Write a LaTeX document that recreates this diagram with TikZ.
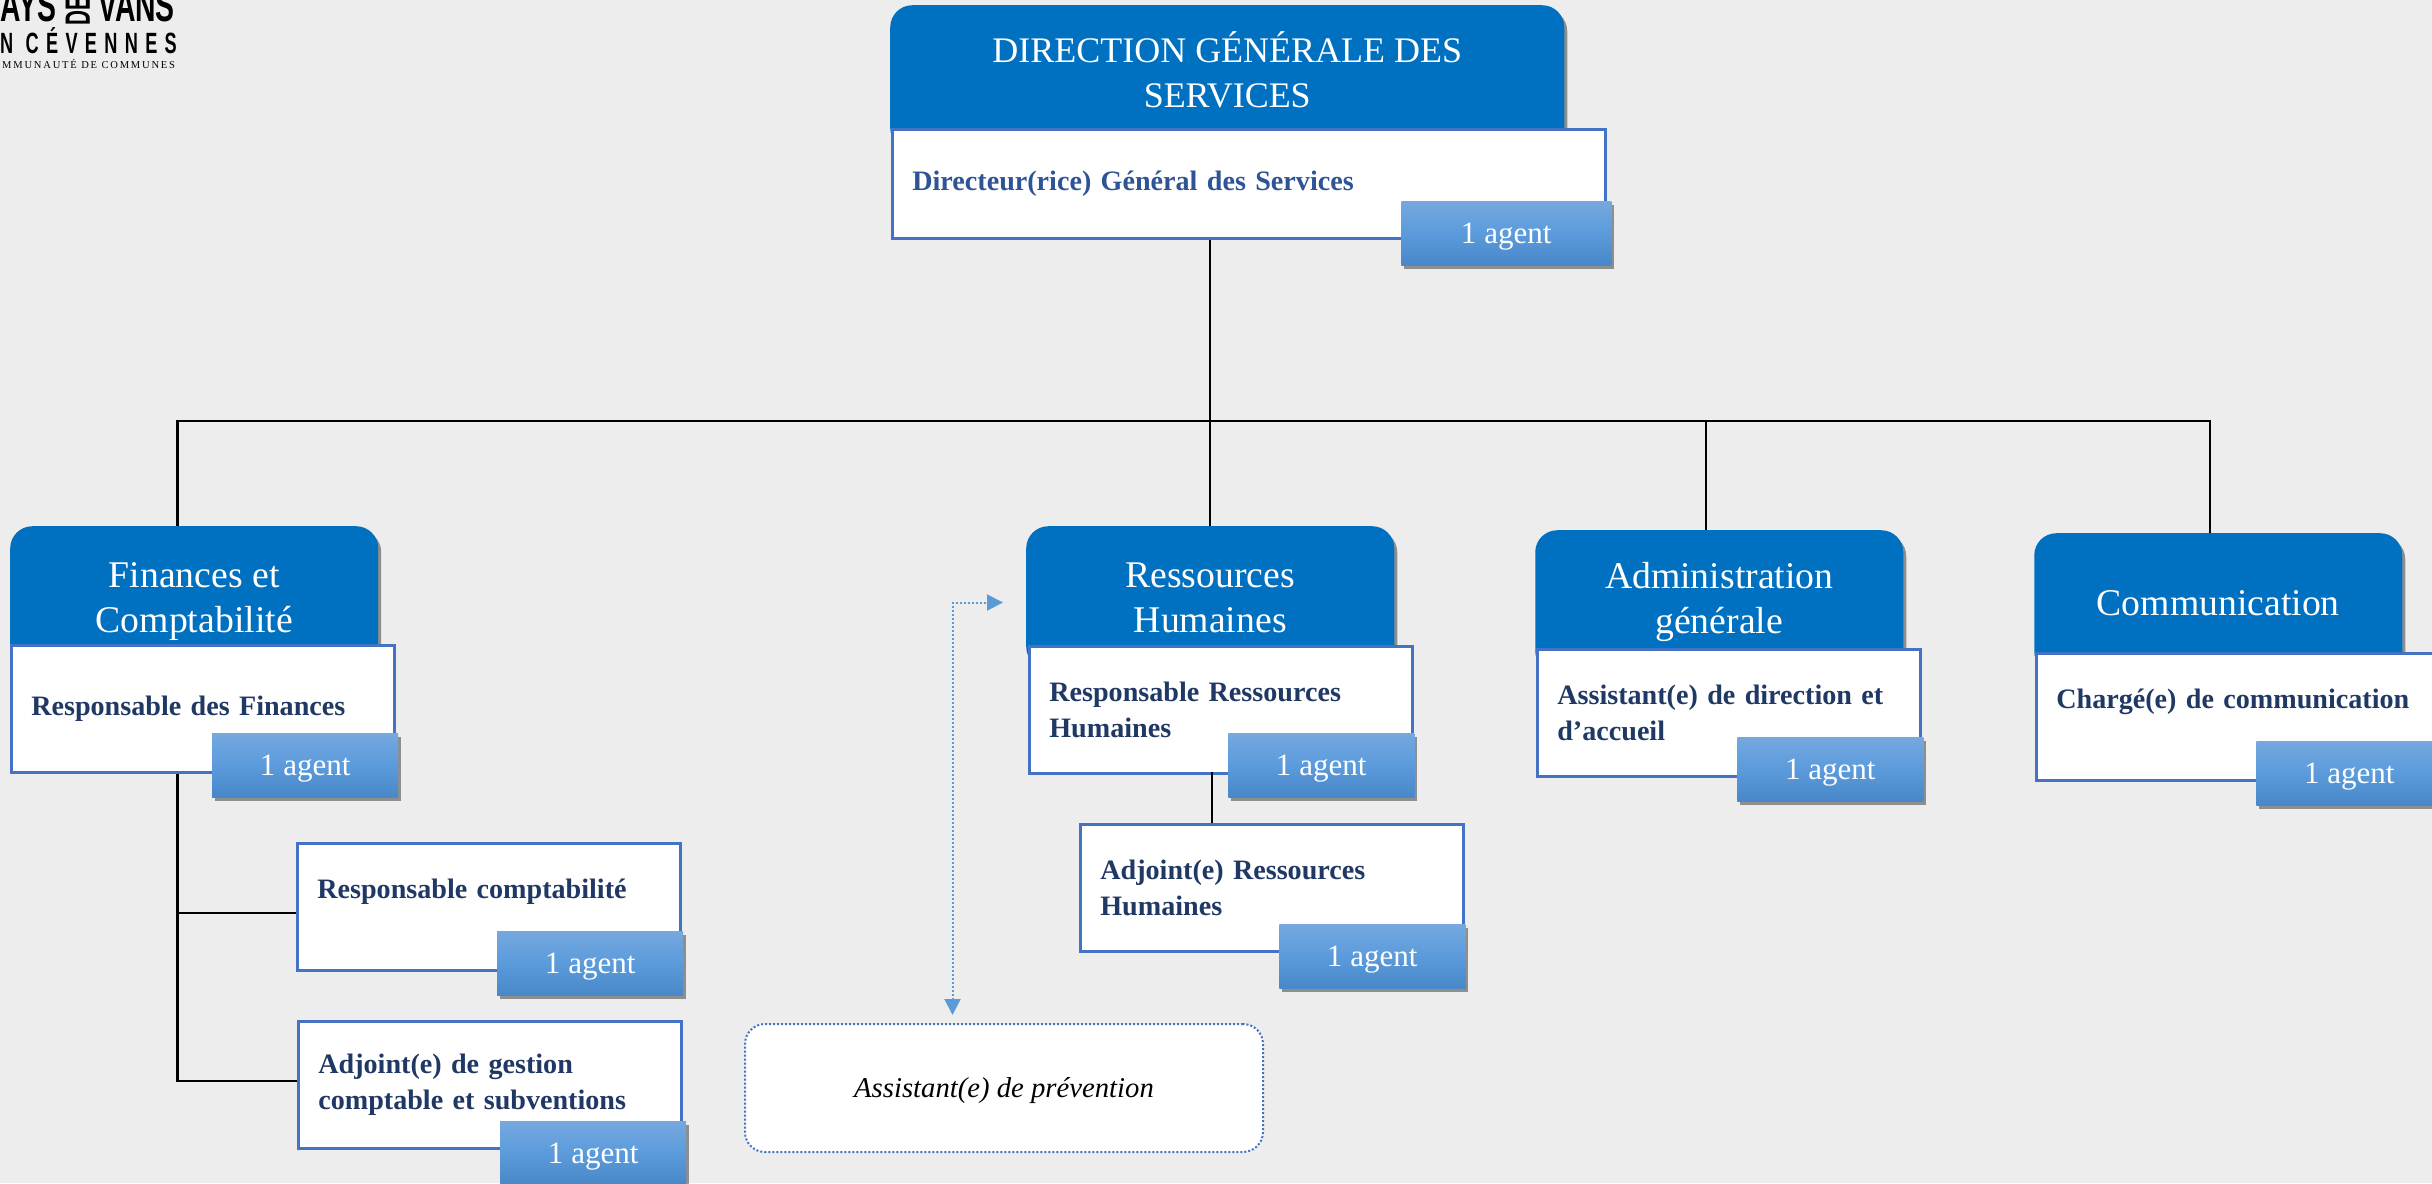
\documentclass[tikz,border=0pt]{standalone}
\usepackage{fontspec}
\usepackage{tikz}
\setmainfont{Liberation Serif}
\newfontfamily\logofont[FakeStretch=0.62]{Liberation Sans}
\newfontfamily\logospaced[FakeStretch=0.62,LetterSpace=25]{Liberation Sans}
\newfontfamily\logoserif[LetterSpace=17]{Liberation Serif}
\usetikzlibrary{arrows.meta}
\usetikzlibrary{shadows}
\definecolor{pagegrey}{HTML}{EDEDED}
\definecolor{headblue}{HTML}{0070C0}
\definecolor{roleblue}{HTML}{4472C4}
\definecolor{rolenavy}{HTML}{1F3864}
\definecolor{dgsnavy}{HTML}{2F5496}
\definecolor{dotblue}{HTML}{5B9BD5}
\definecolor{agenttop}{HTML}{75A8DE}
\definecolor{agentmid}{HTML}{5B9BDC}
\definecolor{agentlow}{HTML}{4888C8}
\tikzset{softshadow/.style = {drop shadow = {shadow xshift = 0.9mm, shadow yshift = -1.2mm, fill = black, opacity = 0.4}}}
\tikzset{headbox/.style = {fill = headblue, text = white, anchor = north west, align = center, inner sep = 0,
                           rounded corners = 6.6mm, minimum width = 110.4mm, minimum height = 42.8mm, softshadow,
                           font = \fontsize{32.2pt}{38.4pt}\selectfont}}
\tikzset{rolebox/.style = {draw = roleblue, line width = 0.8mm, fill = white, text = rolenavy, anchor = north west,
                           align = left, inner xsep = 6mm, inner ysep = 0, text width = #1, minimum height = 38.1mm,
                           font = \bfseries\fontsize{24pt}{30.7pt}\selectfont},
         rolebox/.default = 102.9mm}
\tikzset{agentbox/.style = {top color = agenttop, bottom color = agentlow, middle color = agentmid, text = white,
                            anchor = north west, inner sep = 0, text depth = 0pt,
                            minimum width = 55.8mm, minimum height = 19.2mm, softshadow,
                            font = \fontsize{26.5pt}{30pt}\selectfont}}
\tikzset{link/.style = {draw = black, line width = 0.7mm}}
\tikzset{dotlink/.style = {draw = dotblue, line width = 0.6mm, dash pattern = on 0.6mm off 0.6mm,
                           {Triangle[length = 4.8mm, width = 4.8mm]}-{Triangle[length = 4.8mm, width = 4.8mm]}}}
\tikzset{logotext/.style = {inner sep = 0, anchor = base west, text = black}}

\begin{document}
\begin{tikzpicture}[x = 0.3mm, y = -0.3mm]
    \useasboundingbox (0, 0) rectangle (2432, 1183);
    \clip (0, 0) rectangle (2432, 1183);
    \fill [pagegrey] (0, 0) rectangle (2432, 1183);

    % logo, cut by the page edge
    \node [logotext, font = \logofont\bfseries\fontsize{39pt}{39pt}\selectfont] (logoays) at (0, 21) {AYS};
    \node [logotext, font = \logofont\bfseries\fontsize{39pt}{39pt}\selectfont] (logovans) at (98, 21) {VANS};
    \node [inner sep = 0, anchor = south, rotate = 90, font = \logofont\bfseries\fontsize{30pt}{30pt}\selectfont] (logode) at (90, 11) {\scalebox{0.95}[1]{DE}};
    \node [logotext, font = \logospaced\bfseries\fontsize{25pt}{25pt}\selectfont] (logocev) at (0, 53) {N CÉVENNES};
    \node [logotext, font = \logoserif\fontsize{9pt}{9pt}\selectfont] (logocom) at (2, 68) {MMUNAUTÉ DE COMMUNES};

    % top
    \node [headbox, minimum width = 202.2mm, minimum height = 43.5mm, text depth = 4.8mm, font = \fontsize{30.7pt}{38.4pt}\selectfont] (dgshead) at (890, 5) {DIRECTION GÉNÉRALE DES\\SERVICES};
    \node [rolebox = 201.9mm, text = dgsnavy, minimum height = 32.7mm] (dgsrole) at (891, 128) {Directeur(rice) Général des Services};
    \node [agentbox, minimum width = 63mm] (dgsagent) at (1401, 201) {1 agent};

    % finances
    \node [headbox, text depth = 0pt] (finhead) at (10, 526) {Finances et\\Comptabilité};
    \node [rolebox] (finrole) at (10, 644) {Responsable des Finances};
    \node [agentbox] (finagent) at (212, 733) {1 agent};
    \node [rolebox] (comptarole) at (296, 842) {Responsable comptabilité\\ \mbox{}};
    \node [agentbox] (comptaagent) at (497, 931) {1 agent};
    \node [rolebox] (subvrole) at (297, 1020) {Adjoint(e) de gestion\\comptable et subventions};
    \node [agentbox] (subvagent) at (500, 1121) {1 agent};

    % ressources humaines
    \node [headbox] (rhhead) at (1026, 526) {Ressources\\Humaines};
    \node [rolebox] (rhrole) at (1028, 645) {Responsable Ressources\\Humaines};
    \node [agentbox] (rhagent) at (1228, 733) {1 agent};
    \node [rolebox] (adjrhrole) at (1079, 823) {Adjoint(e) Ressources\\Humaines};
    \node [agentbox] (adjrhagent) at (1279, 924) {1 agent};

    % administration
    \node [headbox] (adminhead) at (1535, 530) {Administration\\générale};
    \node [rolebox] (adminrole) at (1536, 648) {Assistant(e) de direction et\\d’accueil};
    \node [agentbox] (adminagent) at (1737, 737) {1 agent};

    % communication
    \node [headbox, minimum height = 42mm] (comhead) at (2034, 533) {Communication};
    \node [rolebox = 120mm] (comrole) at (2035, 652) {Chargé(e) de communication\\ \mbox{}};
    \node [agentbox] (comagent) at (2256, 741) {1 agent};

    % prevention
    \node [draw = roleblue, line width = 0.6mm, dash pattern = on 0.6mm off 0.6mm, fill = white, rounded corners = 6mm,
           anchor = north west, minimum width = 155.4mm, minimum height = 38.4mm, text depth = 0pt,
           font = \itshape\fontsize{24.5pt}{30pt}\selectfont] (prevbox) at (744, 1023) {Assistant(e) de prévention};

    \coordinate (mainbus) at (1210, 421);
    \coordinate (finbus) at (177.5, 421);
    \coordinate (adminbus) at (1706, 421);
    \coordinate (combus) at (2210, 421);
    \coordinate (finjoina) at (177.5, 913);
    \coordinate (finjoinb) at (177.5, 1081);
    \coordinate (rhjoin) at (1212, 772);
    \coordinate (prevtip) at (952.5, 1015);
    \coordinate (rhtip) at (1003, 602.5);

    \draw [link] (mainbus |- dgsrole.south) -- (mainbus);
    \draw [link] (finbus |- finhead.north) -- (finbus) -- (combus) -- (combus |- comhead.north);
    \draw [link] (mainbus) -- (mainbus |- rhhead.north);
    \draw [link] (adminbus) -- (adminbus |- adminhead.north);
    \draw [link] (finbus |- finrole.south) -- (finjoinb) -- (finjoinb -| subvrole.west);
    \draw [link] (finjoina) -- (finjoina -| comptarole.west);
    \draw [link] (rhjoin) -- (rhjoin |- adjrhrole.north);
    \draw [dotlink] (prevtip) |- (rhtip);
\end{tikzpicture}
\end{document}
